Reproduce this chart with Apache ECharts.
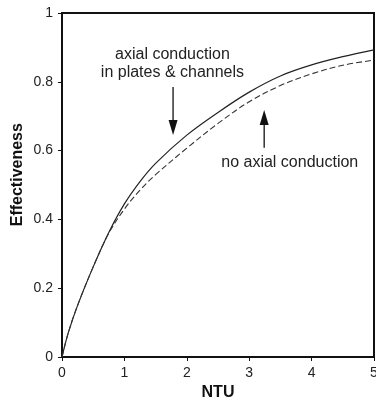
<!DOCTYPE html>
<html>
<head>
<meta charset="utf-8">
<script src="https://cdn.jsdelivr.net/npm/echarts@6/dist/echarts.min.js"></script>
<style>
  html, body { margin: 0; padding: 0; background: #fff; }
  #chart { width: 376px; height: 403px; }
</style>
</head>
<body>
<div id="chart"></div>
<script>
// NTU values and exchanger effectiveness for the two models
const ntu = [0, 0.1, 0.25, 0.5, 0.75, 1, 1.25, 1.5, 2, 2.5, 3, 3.5, 4, 4.5, 5];
const effAxial = [0, 0.07, 0.15, 0.262, 0.362, 0.445, 0.51, 0.563, 0.645, 0.711, 0.77, 0.817, 0.849, 0.873, 0.893];
const effNoAxial = [0, 0.07, 0.15, 0.262, 0.36, 0.43, 0.485, 0.53, 0.607, 0.679, 0.742, 0.789, 0.823, 0.848, 0.863];
const xTicks = [0, 1, 2, 3, 4, 5];
const yTicks = [0, 0.2, 0.4, 0.6, 0.8, 1];

const FONT = '"Liberation Sans", Arial, sans-serif';
const chart = echarts.init(document.getElementById('chart'), null, { renderer: 'canvas' });

const pairs = (xs, ys) => xs.map((x, i) => [x, ys[i]]);

chart.setOption({
  animation: false,
  backgroundColor: '#fff',
  grid: {
    left: 62, top: 13, width: 312, height: 344,
    containLabel: false, outerBoundsMode: 'none',
    show: true, borderColor: '#111', borderWidth: 2, backgroundColor: 'transparent'
  },
  xAxis: {
    type: 'value', min: xTicks[0], max: xTicks[xTicks.length - 1], interval: 1,
    name: 'NTU', nameLocation: 'middle', nameGap: 28,
    nameTextStyle: { fontFamily: FONT, fontSize: 16, fontWeight: 'bold', color: '#111' },
    axisLine: { show: true, onZero: false, lineStyle: { color: '#111', width: 2 } },
    axisTick: { show: true, inside: false, length: 4, lineStyle: { color: '#111', width: 1 } },
    axisLabel: { fontFamily: FONT, fontSize: 14, color: '#222', margin: 9 },
    splitLine: { show: false }
  },
  yAxis: {
    type: 'value', min: yTicks[0], max: yTicks[yTicks.length - 1], interval: 0.2,
    axisLine: { show: true, onZero: false, lineStyle: { color: '#111', width: 2 } },
    axisTick: { show: true, inside: false, length: 4, lineStyle: { color: '#111', width: 1 } },
    axisLabel: { fontFamily: FONT, fontSize: 14, color: '#222', margin: 9 },
    splitLine: { show: false }
  },
  series: [
    {
      name: 'axial conduction in plates & channels',
      type: 'line', smooth: 0.35, showSymbol: false,
      data: pairs(ntu, effAxial),
      lineStyle: { color: '#222', width: 1.2 }
    },
    {
      name: 'no axial conduction',
      type: 'line', smooth: 0.35, showSymbol: false,
      data: pairs(ntu, effNoAxial),
      lineStyle: { color: '#333', width: 1.1, type: [6, 3] }
    }
  ]
});

// Annotation callouts, anchored in data coordinates
const px = (x, y) => chart.convertToPixel({ gridIndex: 0 }, [x, y]);

function arrow(x, yFrom, yTo, headLen, headHalfW) {
  const a = px(x, yFrom), b = px(x, yTo);
  const dir = b[1] > a[1] ? 1 : -1;
  const baseY = b[1] - dir * headLen;
  return [
    { type: 'line', shape: { x1: a[0], y1: a[1], x2: b[0], y2: baseY }, style: { stroke: '#111', lineWidth: 1.3 } },
    { type: 'polygon', shape: { points: [[b[0] - headHalfW, baseY], [b[0] + headHalfW, baseY], [b[0], b[1]]] }, style: { fill: '#111' } }
  ];
}

function label(x, y, text) {
  const p = px(x, y);
  return {
    type: 'text', x: p[0], y: p[1],
    style: { text: text, fontFamily: FONT, fontSize: 16, fill: '#222', align: 'center', verticalAlign: 'middle', lineHeight: 18 }
  };
}

// Vertical axis title, set left of the tick labels
const yTitleAnchor = px(xTicks[0], 0.53);

chart.setOption({
  graphic: [
    {
      type: 'text', x: yTitleAnchor[0] - 44, y: yTitleAnchor[1], rotation: Math.PI / 2,
      style: { text: 'Effectiveness', fontFamily: FONT, fontSize: 16, fontWeight: 'bold', fill: '#111', align: 'center', verticalAlign: 'middle' }
    },
    label(1.77, 0.852, 'axial conduction\nin plates & channels'),
    ...arrow(1.78, 0.785, 0.645, 15, 4.5),
    ...arrow(3.24, 0.608, 0.718, 15, 4.5),
    label(3.65, 0.564, 'no axial conduction')
  ]
});
</script>
</body>
</html>
